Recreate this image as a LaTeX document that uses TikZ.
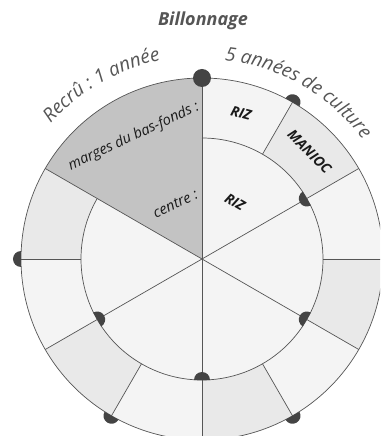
\documentclass[tikz,border=0pt]{standalone}
\usepackage{fontspec}
\setmainfont{Open Sans}
\usetikzlibrary{decorations.text}
\definecolor{darkseg}{HTML}{C3C3C3}
\definecolor{lightseg}{HTML}{F4F4F4}
\definecolor{midseg}{HTML}{E9E9E9}
\definecolor{linecol}{HTML}{555555}
\definecolor{dotcol}{HTML}{444444}
\definecolor{txtgray}{HTML}{555555}
\definecolor{txtdark}{HTML}{1A1A1A}
\begin{document}
\begin{tikzpicture}[x=1pt,y=1pt,
  sep/.style={draw=linecol, line width=0.7pt},
  dotfill/.style={fill=dotcol},
  croplabel/.style={font=\fontsize{14}{16}\selectfont\bfseries\itshape, text=txtdark, inner sep=0},
  notelabel/.style={font=\fontsize{14.5}{16}\selectfont\itshape, text=txtdark, inner sep=0, anchor=base east, rotate=25},
  arctext/.style={decorate, decoration={text along path, text align=center, text color=txtgray, text={|\fontsize{19}{21}\selectfont\itshape|#1}}}
]
\useasboundingbox (-202,-177) rectangle (178,259);
\clip (-202,-177) rectangle (178,259);
\fill[white] (-202,-177) rectangle (178,259);
% outer ring segments
\foreach \a/\c in {0/lightseg,30/midseg,60/lightseg,150/midseg,180/lightseg,210/midseg,240/lightseg,270/midseg,300/lightseg,330/midseg}{
  \fill[\c] (\a:121) arc[start angle=\a, end angle=\a+30, radius=121] -- (\a+30:181) arc[start angle=\a+30, end angle=\a, radius=181] -- cycle;
}
% inner sectors
\fill[lightseg] (0,0) -- (150:121) arc[start angle=150, end angle=450, radius=121] -- cycle;
\fill[darkseg] (0,0) -- (90:181) arc[start angle=90, end angle=150, radius=181] -- cycle;
% lines
\draw[sep] (0,0) circle[radius=181];
\draw[sep] (150:121) arc[start angle=150, end angle=450, radius=121];
\foreach \a in {30,90,150,210,270,330} \draw[sep] (0,0) -- (\a:181);
\foreach \a in {0,60,180,240,300} \draw[sep] (\a:121) -- (\a:181);
% markers
\foreach \a in {60,180,240,300}
  \fill[dotfill] (\a:181) ++(\a+90:8) arc[start angle=\a+90, end angle=\a-90, radius=8] -- cycle;
\foreach \a in {30,210,270,330}
  \fill[dotfill] (\a:121) ++(\a+90:8) arc[start angle=\a+90, end angle=\a+270, radius=8] -- cycle;
\fill[dotfill] (90:181) circle[radius=9];
% labels
\node[font=\fontsize{18}{20}\selectfont\bfseries\itshape, text=txtgray] (title) at (1,238) {Billonnage};
\node[croplabel, rotate=-15] (rizout) at (75:151) {RIZ};
\node[croplabel, rotate=-45] (manioc) at (45:152) {MANIOC};
\node[croplabel, rotate=-30] (rizin) at (60:66) {RIZ};
\node[notelabel] (marges) at (-2,149) {marges du bas-fonds :};
\node[notelabel] (centre) at (-3,61) {centre :};
\path[arctext={Recrû : 1 année}] (150:203) arc[start angle=150, end angle=90, radius=203];
\path[arctext={5 années de culture}] (90:200) arc[start angle=90, end angle=30, radius=200];
\end{tikzpicture}
\end{document}
